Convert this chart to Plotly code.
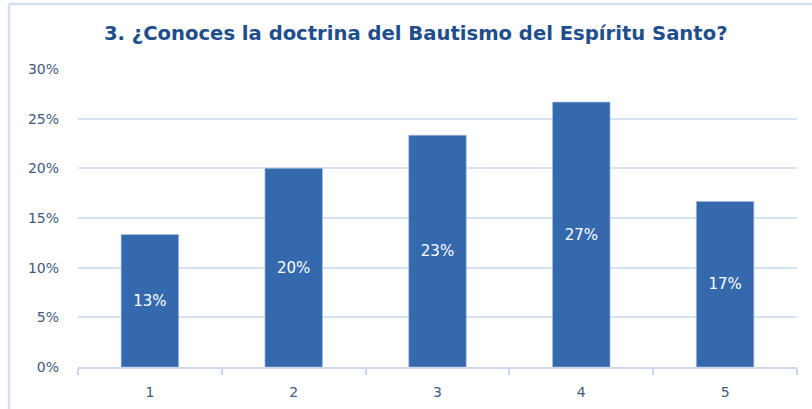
import plotly.graph_objects as go

categories = ["1", "2", "3", "4", "5"]
values = [4/30, 6/30, 7/30, 8/30, 5/30]
tick_vals = [0, 0.05, 0.10, 0.15, 0.20, 0.25, 0.30]
tick_text = ["0%", "5%", "10%", "15%", "20%", "25%", "30%"]
title = "3. ¿Conoces la doctrina del Bautismo del Espíritu Santo?"

fig = go.Figure()
fig.add_trace(go.Bar(
    x=categories, y=values,
    marker=dict(color="#3569AE", line=dict(color="#A9C1E0", width=0.6)),
    texttemplate="%{y:.0%}",
    textposition="inside",
    insidetextanchor="middle",
    textfont=dict(color="white", size=15, family="DejaVu Sans", style="normal", weight="normal"),
    hoverinfo="skip",
))

W, H = 812, 409
L, R, T, B = 78, 15, 69, 42
pw, ph = W - L - R, H - T - B
bx = (9 - L) / pw
by = 1 + (T - 4) / ph

fig.update_layout(
    width=W, height=H,
    margin=dict(l=L, r=R, t=T, b=B),
    paper_bgcolor="white", plot_bgcolor="white",
    bargap=0.6,
    showlegend=False,
    title=dict(text="<b>" + title + "</b>", x=0.512, xanchor="center", y=1 - 33 / H, yanchor="middle",
               font=dict(family="DejaVu Sans, sans-serif", size=19.6, color="#1F4E8C")),
    xaxis=dict(
        type="category", tickson="boundaries", ticks="outside", ticklen=6,
        tickcolor="#C9D8EC", tickwidth=2,
        showline=True, linecolor="#C9D8EC", linewidth=2,
        showgrid=False, automargin=False,
        tickfont=dict(family="DejaVu Sans", size=14, color="#3F5A80"),
        ticklabelstandoff=11,
    ),
    yaxis=dict(
        range=[0, 0.3], tickvals=tick_vals, ticktext=tick_text,
        showgrid=True, gridcolor="#D5E2F3", gridwidth=2,
        zeroline=False, showline=False, ticks="", automargin=False,
        tickfont=dict(family="DejaVu Sans", size=14, color="#3F5A80"),
        ticklabelstandoff=18,
    ),
    shapes=[
        dict(type="line", xref="paper", yref="paper", x0=bx, x1=bx, y0=-0.3, y1=by,
             line=dict(color="#D3E0F0", width=2.5)),
        dict(type="line", xref="paper", yref="paper", x0=bx, x1=1.1, y0=by, y1=by,
             line=dict(color="#D3E0F0", width=2.5)),
    ],
)

fig.write_html("out.html", config={"displayModeBar": False},
               post_script="document.body.style.margin='0px';")
